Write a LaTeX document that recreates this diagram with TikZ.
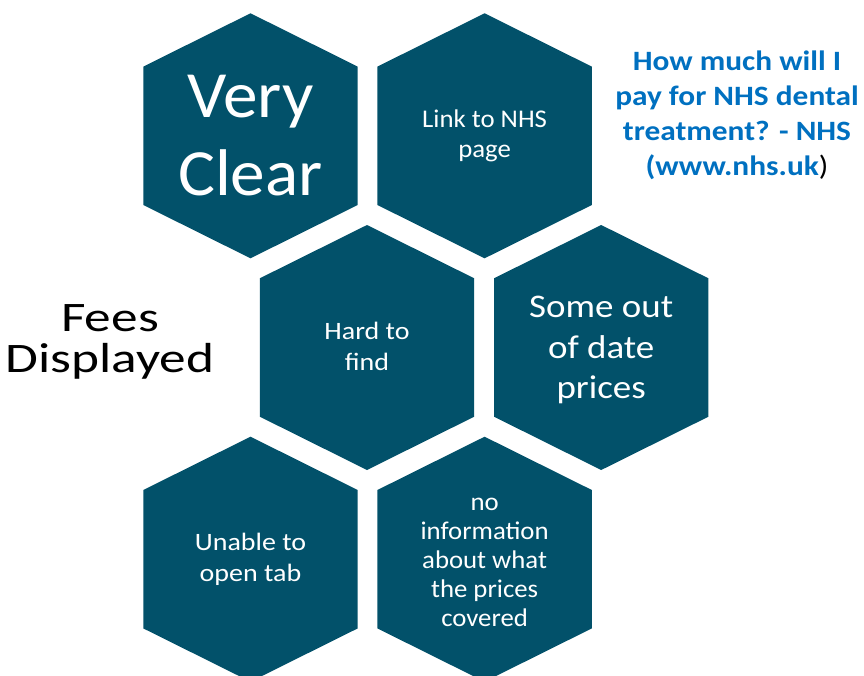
\documentclass[tikz,border=0pt]{standalone}
\usepackage{fontspec}
\setmainfont{Carlito}
% Carlito widened to the proportions of the slide text
\newfontfamily\wideA[FakeStretch=1.05]{Carlito}
\newfontfamily\wideB[FakeStretch=1.12]{Carlito}
\newfontfamily\wideC[FakeStretch=1.27]{Carlito}
\definecolor{hexteal}{RGB}{2,81,106}
\definecolor{linkblue}{RGB}{0,112,192}
\begin{document}
\begin{tikzpicture}[x=1pt,y=-1pt,
  hexfill/.style={fill=hexteal},
  hexa/.pic={\fill[hexfill] (-107.2,-69.2) -- (0,-122.5) -- (107.2,-69.2)
      -- (107.2,69.2) -- (0,122.5) -- (-107.2,69.2) -- cycle;},
  hexlabel/.style={text=white, align=center, inner sep=0pt},
  smalltext/.style={hexlabel, font=\wideA\fontsize{25.5}{30}\selectfont},
  smallwide/.style={hexlabel, font=\wideB\fontsize{25}{31}\selectfont},
  midtext/.style={hexlabel, font=\wideB\fontsize{33}{40.5}\selectfont},
  bigtext/.style={hexlabel, font=\wideA\fontsize{66}{77.5}\selectfont},
  sidetext/.style={align=center, inner sep=0pt, font=\wideC\fontsize{42}{41.5}\selectfont},
  linktext/.style={align=center, inner sep=0pt, text=linkblue,
      font=\wideB\bfseries\fontsize{28}{35}\selectfont}]
\useasboundingbox (0,0) rectangle (864,675);
\begin{scope}
\clip (0,0) rectangle (864,675);
% honeycomb: two columns of hexagons, middle row offset
\pic at (250.5,135.8) {hexa};
\pic at (484.6,135.8) {hexa};
\pic at (367.0,347.5) {hexa};
\pic at (601.2,347.5) {hexa};
\pic at (250.5,559.2) {hexa};
\pic at (484.6,559.2) {hexa};
\end{scope}

\node[bigtext]   (clear)  at (250.5,135.8) {Very\\Clear};
\node[smalltext] (link)   at (484.6,135.5) {Link to NHS\\page};
\node[smallwide] (hard)   at (367.0,346.5) {Hard to\\find};
\node[midtext]   (dated)  at (601.2,350.0) {Some out\\of date\\prices};
\node[smallwide] (unable) at (250.5,559.0) {Unable to\\open tab};
\node[smalltext, font=\wideA\fontsize{25.5}{29}\selectfont]
                 (noinfo) at (484.6,562.5) {no\\information\\about what\\the prices\\covered};

\node[sidetext] (fees) at (110,342) {Fees\\Displayed};
\node[linktext] (nhs)  at (737,115.5)
  {How much will I\\pay for NHS dental\\treatment? - NHS\\(www.nhs.uk{\mdseries\color{black})}};
\end{tikzpicture}
\end{document}
